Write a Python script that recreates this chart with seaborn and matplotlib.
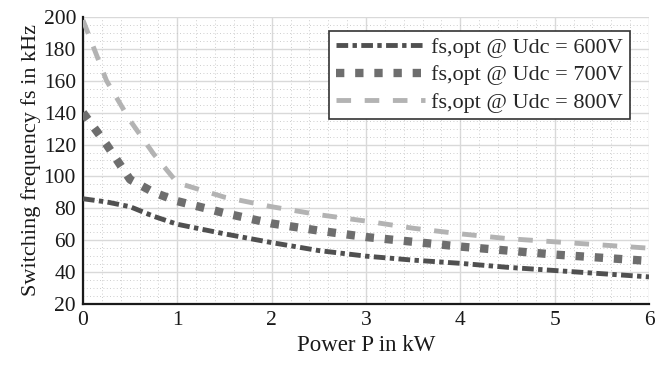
import numpy as np
import pandas as pd
import matplotlib
matplotlib.use("Agg")
import matplotlib.pyplot as plt
import seaborn as sns
from matplotlib.ticker import AutoMinorLocator

# values
power_kw = [0, 0.25, 0.5, 0.75, 1, 1.5, 2, 2.5, 3, 3.5, 4, 4.5, 5, 5.5, 6]
fs_600 = [86, 84, 81, 75, 70, 64, 58.5, 53.5, 50, 47.5, 45.5, 43, 41, 39, 37]
fs_700 = [140, 120, 98, 90, 84.5, 77, 70.5, 66, 62, 59, 56, 53.5, 51, 49, 47]
fs_800 = [198, 160, 135, 114, 96, 87, 81, 76, 72, 67.5, 64, 61, 59, 57, 55]
labels = ["fs,opt @ Udc = 600V", "fs,opt @ Udc = 700V", "fs,opt @ Udc = 800V"]

sns.set_theme(style="white")
plt.rcParams["font.family"] = ["Liberation Serif", "DejaVu Serif"]

fig = plt.figure(figsize=(6.67, 3.67), dpi=100)
ax = fig.add_axes([0.1244, 0.1717, 0.973 - 0.1244, 0.9537 - 0.1717])

styles = [
    dict(color="#505050", lw=3.5, dashes=(2.4, 0.9, 0.9, 0.9)),
    dict(color="#6e6e6e", lw=6.0, dashes=(1.0, 1.3)),
    dict(color="#b3b3b3", lw=3.5, dashes=(3.0, 2.8)),
]
for y, lab, st in zip([fs_600, fs_700, fs_800], labels, styles):
    sns.lineplot(x=power_kw, y=y, ax=ax, color=st["color"], lw=st["lw"],
                 label=lab, zorder=3)
    ln = ax.lines[-1]
    ln.set_dashes(st["dashes"])
    ln.set_dash_capstyle("butt")

ax.set_xlim(0, 6)
ax.set_ylim(20, 200)
ax.set_xticks(range(0, 7))
ax.set_yticks(range(20, 201, 20))
ax.xaxis.set_minor_locator(AutoMinorLocator(5))
ax.yaxis.set_minor_locator(AutoMinorLocator(4))

ax.grid(which="major", color="#d9d9d9", lw=1.0, ls="-", zorder=0)
ax.grid(which="minor", color="#bdbdbd", lw=0.6, ls=(0, (1, 3)), zorder=0)
ax.set_axisbelow(True)

for s in ["top", "right"]:
    ax.spines[s].set_visible(False)
for s in ["left", "bottom"]:
    ax.spines[s].set_color("#1a1a1a")
    ax.spines[s].set_linewidth(1.6)

ax.tick_params(which="major", direction="in", length=5, width=1.6, color="#1a1a1a",
               labelsize=15.5, labelcolor="#1a1a1a", pad=5)
ax.tick_params(which="minor", length=0)

ax.set_xlabel("Power P in kW", fontsize=16.5, color="#1a1a1a", labelpad=4)
ax.set_ylabel("Switching frequency fs in kHz", fontsize=16, color="#1a1a1a", labelpad=2)

leg = ax.legend(loc="upper right", bbox_to_anchor=(0.966, 0.951), fontsize=16,
                frameon=True, fancybox=False, edgecolor="#333333", framealpha=1,
                handlelength=4.0, handletextpad=0.3, borderpad=0.3, labelspacing=0.3,
                borderaxespad=0)
leg.get_frame().set_linewidth(1.2)

fig.savefig("out.png", dpi=100)
